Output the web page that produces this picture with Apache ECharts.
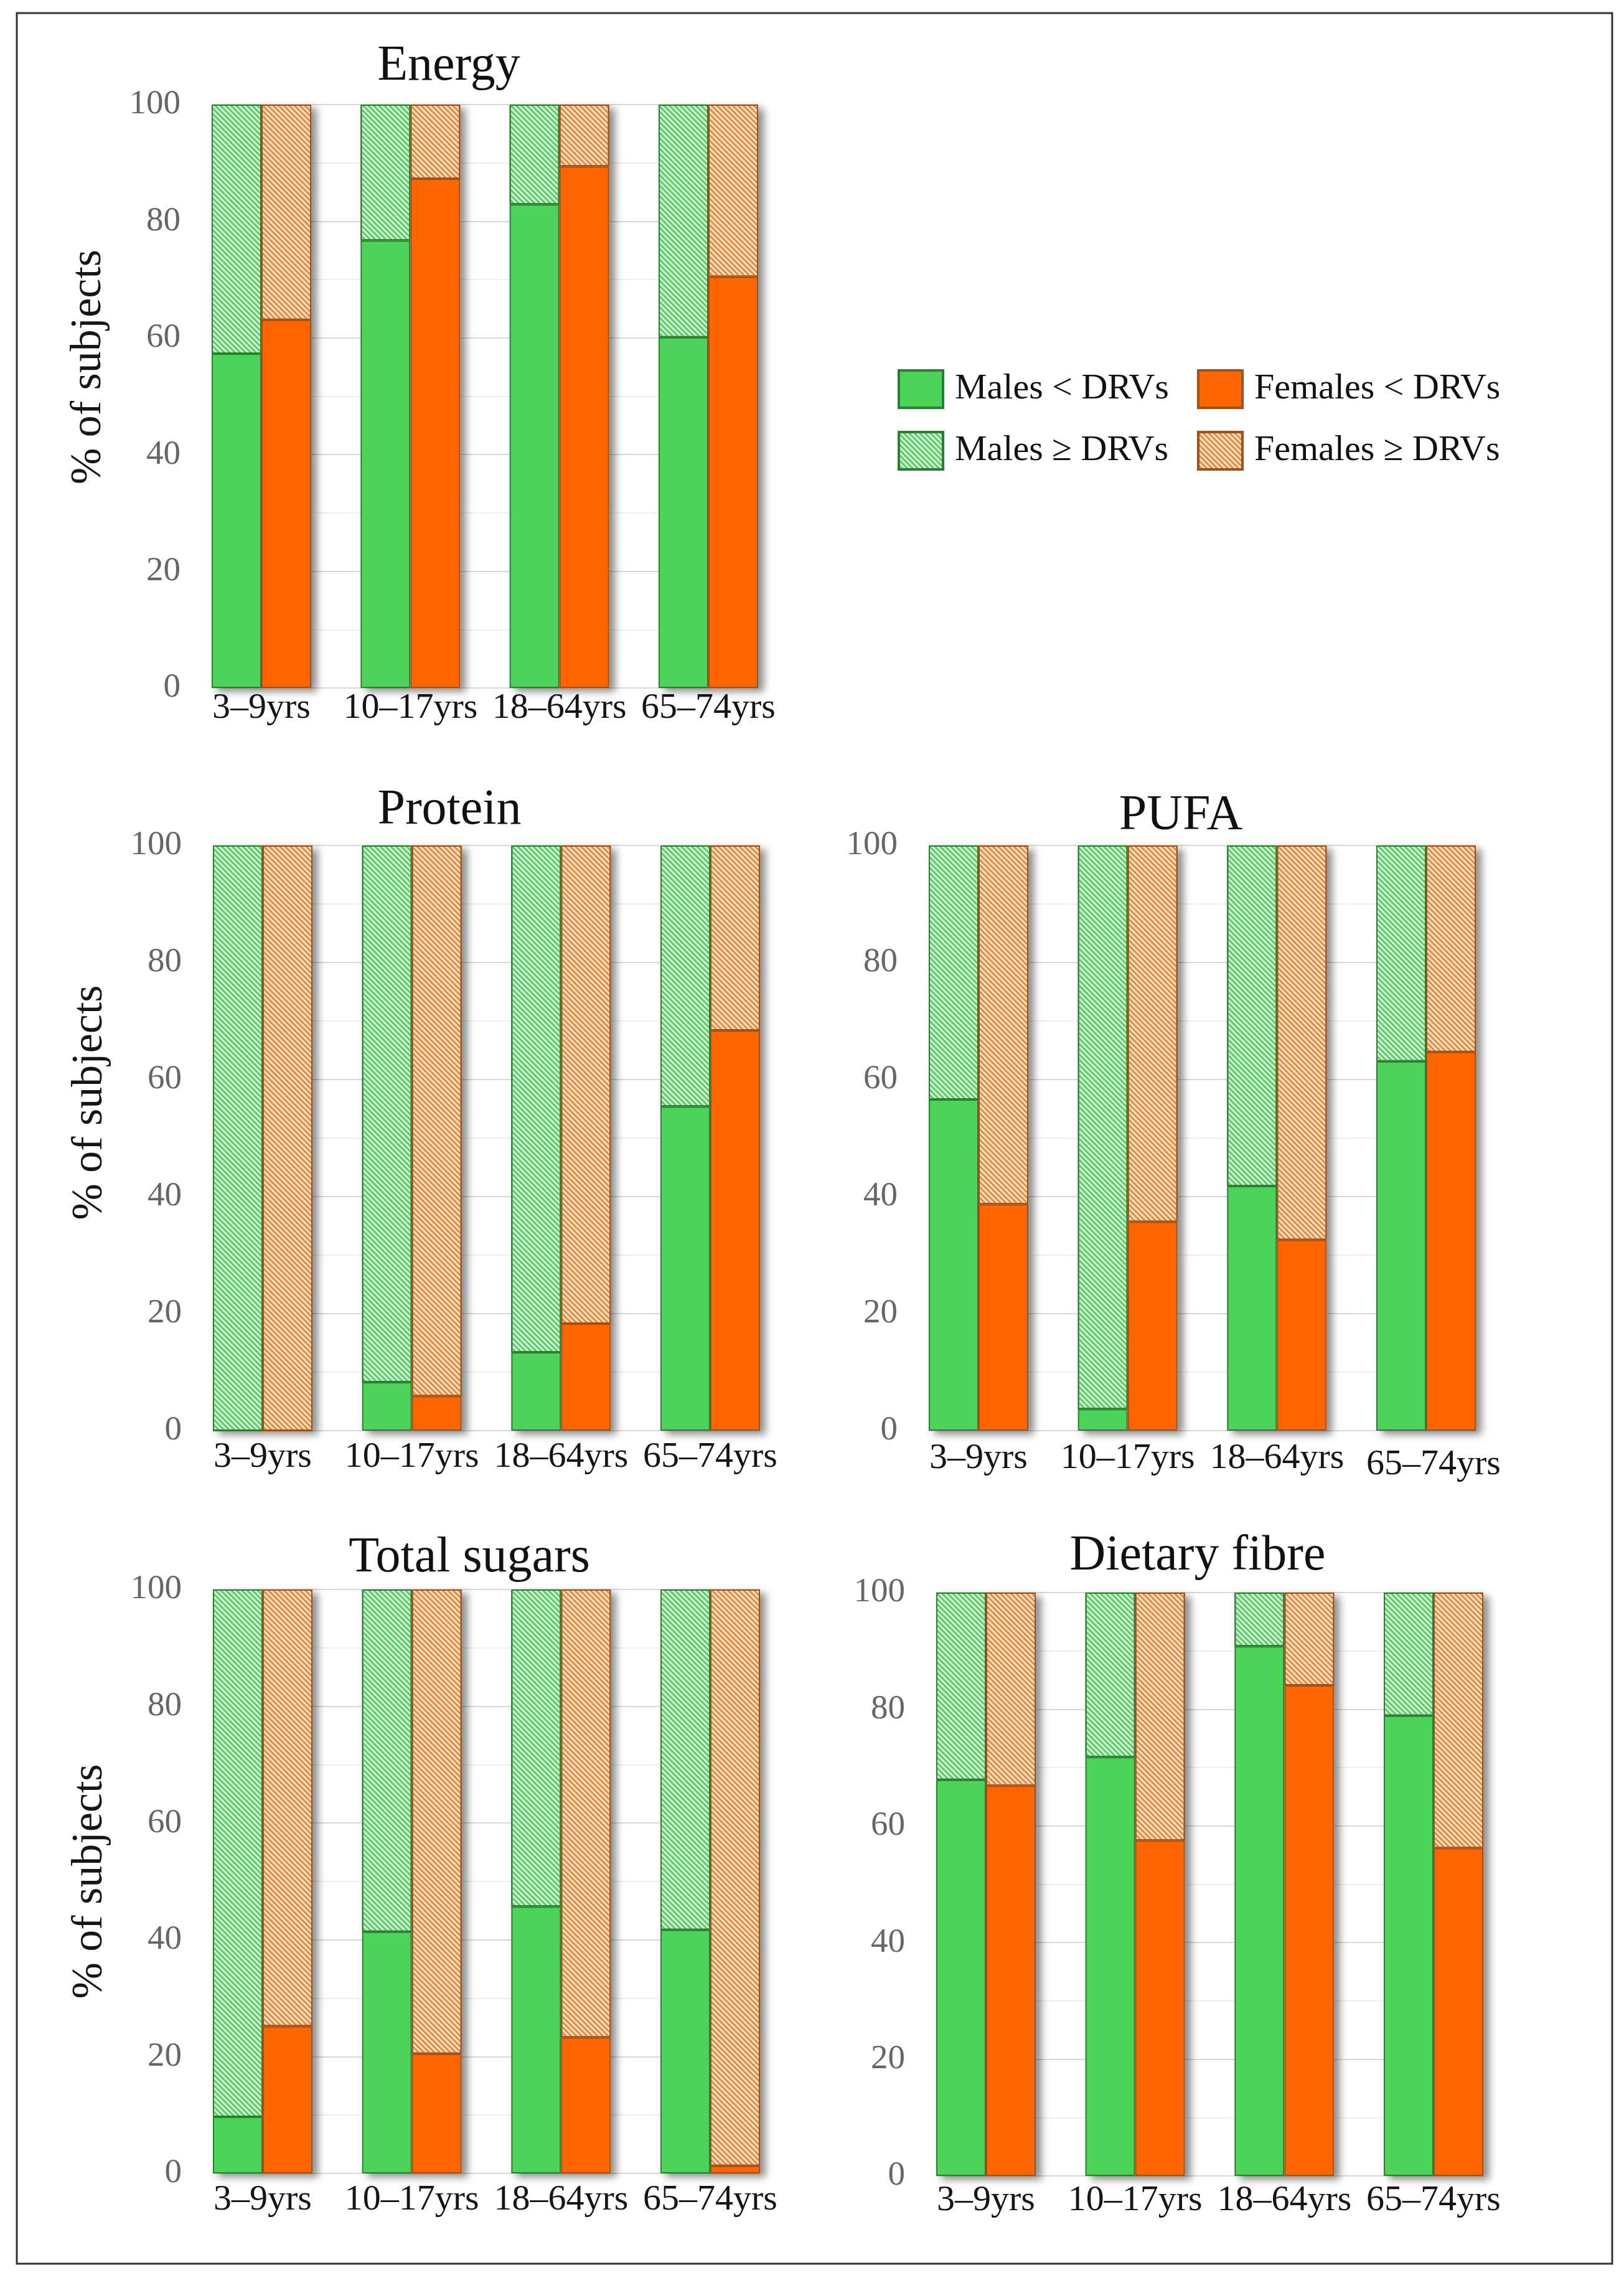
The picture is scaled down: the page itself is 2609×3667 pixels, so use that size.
<!DOCTYPE html>
<html>
<head>
<meta charset="utf-8">
<script src="https://cdn.jsdelivr.net/npm/echarts@6/dist/echarts.min.js"></script>
<style>
html,body{margin:0;padding:0;background:#ffffff;}
#chart{width:2609px;height:3667px;}
</style>
</head>
<body>
<div id="chart"></div>
<script>
// ---------------- data ----------------
const categories = ['3–9yrs', '10–17yrs', '18–64yrs', '65–74yrs'];
const seriesNames = ['Males < DRVs', 'Males ≥ DRVs', 'Females < DRVs', 'Females ≥ DRVs'];
const panelTitles = ['Energy', 'Protein', 'PUFA', 'Total sugars', 'Dietary fibre'];
const yAxisTitle = '% of subjects';

const energyMalesBelow   = [57.3, 76.7, 82.9, 60.1];
const energyMalesAbove   = [42.7, 23.3, 17.1, 39.9];
const energyFemalesBelow = [63.1, 87.3, 89.4, 70.5];
const energyFemalesAbove = [36.9, 12.7, 10.6, 29.5];

const proteinMalesBelow   = [0, 8.3, 13.4, 55.4];
const proteinMalesAbove   = [100, 91.7, 86.6, 44.6];
const proteinFemalesBelow = [0, 5.9, 18.3, 68.4];
const proteinFemalesAbove = [100, 94.1, 81.7, 31.6];

const pufaMalesBelow   = [56.6, 3.7, 41.8, 63.1];
const pufaMalesAbove   = [43.4, 96.3, 58.2, 36.9];
const pufaFemalesBelow = [38.7, 35.7, 32.6, 64.7];
const pufaFemalesAbove = [61.3, 64.3, 67.4, 35.3];

const sugarsMalesBelow   = [9.7, 41.4, 45.7, 41.7];
const sugarsMalesAbove   = [90.3, 58.6, 54.3, 58.3];
const sugarsFemalesBelow = [25.2, 20.5, 23.3, 1.3];
const sugarsFemalesAbove = [74.8, 79.5, 76.7, 98.7];

const fibreMalesBelow   = [67.9, 71.8, 90.8, 78.9];
const fibreMalesAbove   = [32.1, 28.2, 9.2, 21.1];
const fibreFemalesBelow = [66.9, 57.5, 84.1, 56.2];
const fibreFemalesAbove = [33.1, 42.5, 15.9, 43.8];

const panelData = [
  [energyMalesBelow, energyMalesAbove, energyFemalesBelow, energyFemalesAbove],
  [proteinMalesBelow, proteinMalesAbove, proteinFemalesBelow, proteinFemalesAbove],
  [pufaMalesBelow, pufaMalesAbove, pufaFemalesBelow, pufaFemalesAbove],
  [sugarsMalesBelow, sugarsMalesAbove, sugarsFemalesBelow, sugarsFemalesAbove],
  [fibreMalesBelow, fibreMalesAbove, fibreFemalesBelow, fibreFemalesAbove]
];

// ---------------- layout & style ----------------
const FONT = 'Liberation Serif';
const layout = [
  {left: 340,  right: 1218, top: 168,  bottom: 1105, tx: 721,  ty: 107,  yName: true,  shift: 47, lm: 4},
  {left: 342,  right: 1221, top: 1358, bottom: 2298, tx: 722,  ty: 1302, yName: true,  shift: 57, lm: 14},
  {left: 1492, right: 2371, top: 1358, bottom: 2298, tx: 1897, ty: 1311, yName: false, shift: 0,  lm: 16},
  {left: 342,  right: 1221, top: 2553, bottom: 3491, tx: 754,  ty: 2503, yName: true,  shift: 0,  lm: 14},
  {left: 1504, right: 2383, top: 2558, bottom: 3495, tx: 1924, ty: 2500, yName: false, shift: 0,  lm: 11}
];
const BAR_W = 80;

const hatch = (c) => ({symbol: 'rect', symbolSize: 1, dashArrayX: [1, 0], dashArrayY: [2.7, 2.7], rotation: Math.PI / 4, color: c});
const greenSolid = {color: '#4cd35a', borderColor: '#2e7d32', borderWidth: 2};
const greenHatch = {color: '#d2f3d4', borderColor: '#2e7d32', borderWidth: 2, decal: hatch('#5cc96b')};
const orangeSolid = {color: '#ff6600', borderColor: '#a24f18', borderWidth: 2};
const orangeHatch = {color: '#fde3c2', borderColor: '#a24f18', borderWidth: 2, decal: hatch('#df8a46')};
const styles = [greenSolid, greenHatch, orangeSolid, orangeHatch];

const grid = [], xAxis = [], yAxis = [], series = [], title = [];

layout.forEach((L, p) => {
  const W = L.right - L.left;
  const H = L.bottom - L.top;
  const half = (W - 4 * 2 * BAR_W) / 6;
  grid.push({left: L.left - half, top: L.top, width: W + 2 * half, height: H, containLabel: false});
  grid.push({left: L.left, top: L.top, width: W, height: H, containLabel: false});

  const gBar = 2 * p, gLine = 2 * p + 1;
  const xBar = xAxis.length;
  xAxis.push({
    type: 'category', gridIndex: gBar, data: categories,
    axisLine: {show: false}, axisTick: {show: false},
    axisLabel: {
      interval: 0, margin: L.lm, fontFamily: FONT, fontSize: 58, color: '#151515',
      formatter: (v, i) => (p === 2 && i === 3) ? '{low|' + v + '}' : v,
      rich: {low: {fontFamily: FONT, fontSize: 58, color: '#151515', padding: [10, 0, 0, 24]}}
    }
  });
  const xShadow = xAxis.length;
  xAxis.push({type: 'category', gridIndex: gBar, data: categories, show: false});
  xAxis.push({type: 'value', gridIndex: gLine, min: 0, max: 1, show: false});

  const yBar = yAxis.length;
  yAxis.push({type: 'value', gridIndex: gBar, min: 0, max: 100, show: false, splitLine: {show: false}});
  yAxis.push({
    type: 'value', gridIndex: gLine, min: 0, max: 100, interval: 20,
    axisLine: {show: false}, axisTick: {show: false},
    axisLabel: {margin: 50, fontFamily: FONT, fontSize: 55, color: '#666666'},
    splitLine: {show: true, lineStyle: {color: '#d9d9d9', width: 2}},
    minorTick: {show: false, splitNumber: 2},
    minorSplitLine: {show: true, lineStyle: {color: '#efefef', width: 2}},
    name: L.yName ? yAxisTitle : '',
    nameLocation: 'middle', nameGap: 162,
    nameTextStyle: {fontFamily: FONT, fontSize: 70, color: '#151515', padding: [0, 0, 0, 2 * L.shift]}
  });

  title.push({
    text: panelTitles[p], left: L.tx, top: L.ty - 40, textAlign: 'center', padding: 0,
    textStyle: {fontFamily: FONT, fontSize: 80, fontWeight: 'normal', color: '#111111'}
  });

  const d = panelData[p];
  const totals = categories.map((c, i) => Math.max(d[0][i] + d[1][i], d[2][i] + d[3][i]));
  series.push({
    type: 'bar', name: 'shadow', xAxisIndex: xShadow, yAxisIndex: yBar, data: totals,
    barWidth: 2 * BAR_W, z: 1, silent: true,
    itemStyle: {color: '#ffffff', shadowColor: 'rgba(0,0,0,0.45)', shadowBlur: 12, shadowOffsetX: 9, shadowOffsetY: 6}
  });
  for (let k = 0; k < 4; k++) {
    series.push({
      type: 'bar', name: seriesNames[k], xAxisIndex: xBar, yAxisIndex: yBar,
      stack: (k < 2 ? 'm' : 'f') + p, data: d[k], barWidth: BAR_W, barGap: '0%',
      z: 3, itemStyle: styles[k]
    });
  }
});

const legendPos = [
  {left: 1442, top: 593}, {left: 1923, top: 593},
  {left: 1442, top: 692}, {left: 1923, top: 692}
];
const legendOrder = [0, 2, 1, 3];
const legend = legendOrder.map((k, j) => ({
  data: [seriesNames[k]], left: legendPos[j].left, top: legendPos[j].top, padding: 0,
  itemWidth: 71, itemHeight: 60, selectedMode: false, icon: 'rect',
  itemStyle: {borderWidth: 4},
  textStyle: {fontFamily: FONT, fontSize: 58, color: '#111111', padding: [0, 0, 0, 14]}
}));

const chart = echarts.init(document.getElementById('chart'), null, {renderer: 'canvas'});
chart.setOption({
  animation: false,
  backgroundColor: '#ffffff',
  title, grid, xAxis, yAxis, series, legend,
  graphic: [{
    type: 'rect', silent: true, z: 100,
    shape: {x: 27, y: 21, width: 2563, height: 3615},
    style: {fill: null, stroke: '#333333', lineWidth: 3}
  }]
});
</script>
</body>
</html>
